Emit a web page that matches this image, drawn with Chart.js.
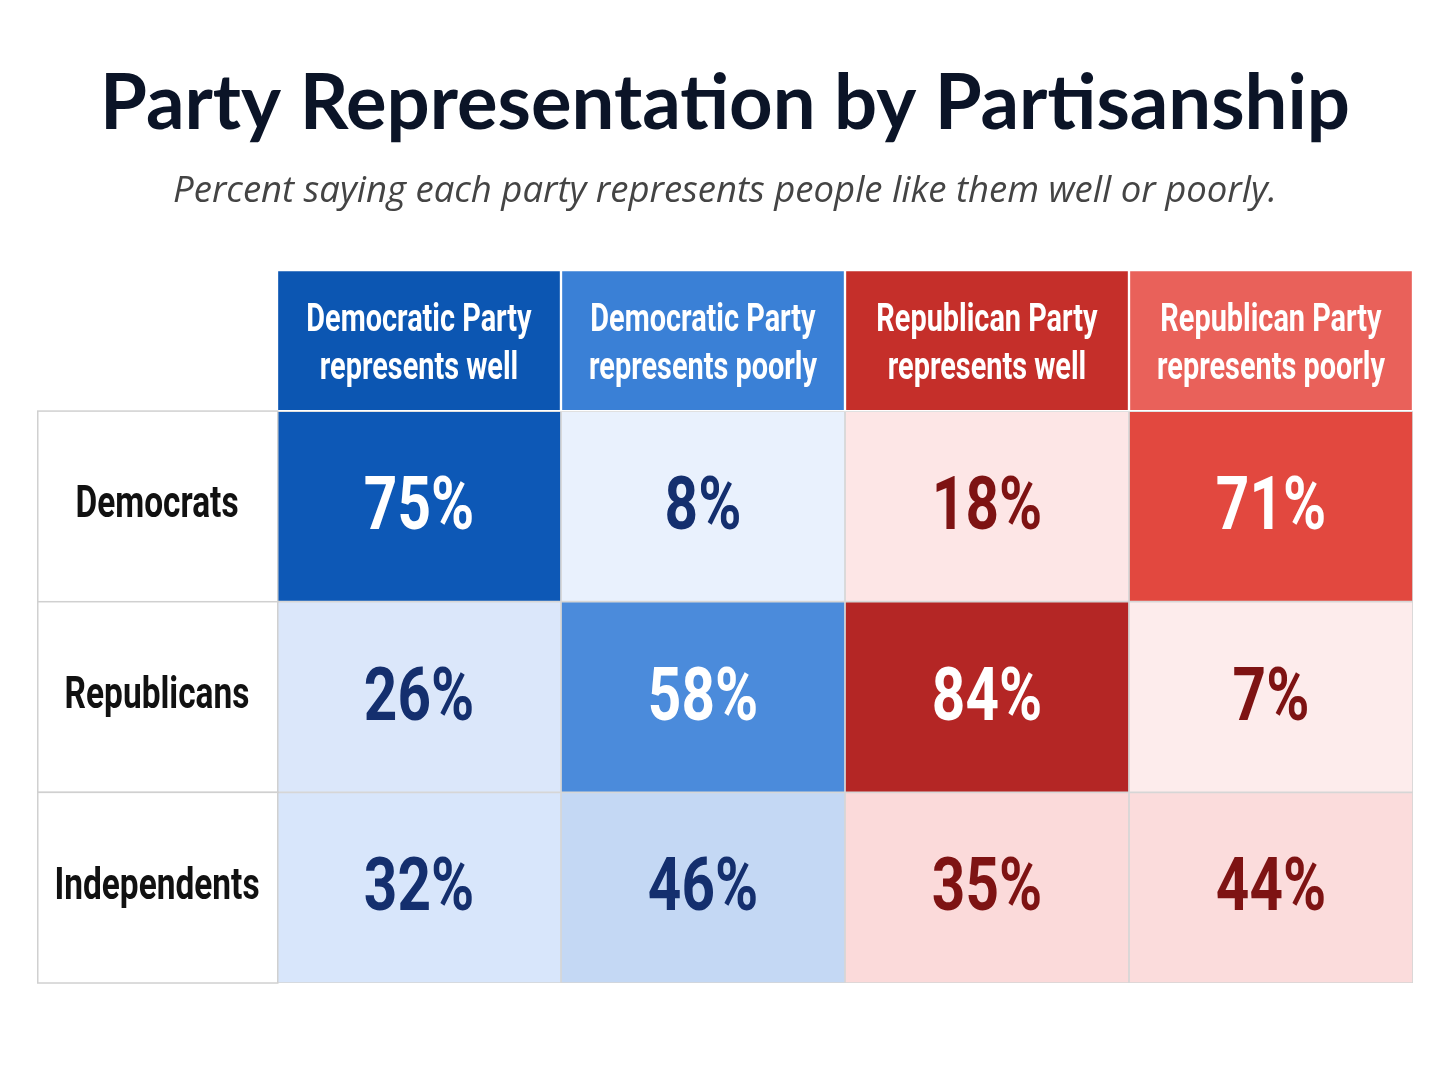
<!DOCTYPE html>
<html>
<head>
<meta charset="utf-8">
<script src="https://cdn.jsdelivr.net/npm/chart.js@4"></script>
<style>
  html, body { margin: 0; padding: 0; background: #fff; }
  #wrap { width: 1448px; height: 1086px; }
</style>
</head>
<body>
<div id="wrap"><canvas id="heat"></canvas></div>
<script>
// column headers and row groups
var columns = ['Democratic Party\nrepresents well', 'Democratic Party\nrepresents poorly',
               'Republican Party\nrepresents well', 'Republican Party\nrepresents poorly'];
var groups = ['Democrats', 'Republicans', 'Independents'];

// percent values, one array per group
var democrats    = [75, 8, 18, 71];
var republicans  = [26, 58, 84, 7];
var independents = [32, 46, 35, 44];

var values = [democrats, republicans, independents];

// styling
var headerColors = ['#0c56b2', '#3a80d6', '#c52f2a', '#e9615a'];
var cellColors = [
    ['#0d58b6', '#e9f1fd', '#fde6e6', '#e2483f'],
    ['#dbe7fa', '#4b8bdb', '#b42625', '#fdecec'],
    ['#d8e6fb', '#c4d8f4', '#fbdada', '#fbdcdc']
];
var textColors = [
    ['#ffffff', '#142f6e', '#7e1313', '#ffffff'],
    ['#142f6e', '#ffffff', '#ffffff', '#7e1313'],
    ['#142f6e', '#142f6e', '#7e1313', '#7e1313']
];
var face = 'Roboto, "DejaVu Sans Condensed", sans-serif';

// header row spans a shorter band above the three group rows
var headerTop = -0.74;

var datasets = [];
datasets.push({
    label: 'header',
    data: columns.map(function() { return [headerTop, 0]; }),
    backgroundColor: headerColors,
    borderColor: '#ffffff',
    borderWidth: 1.5,
    borderSkipped: false
});
groups.forEach(function(g, r) {
    datasets.push({
        label: g,
        data: columns.map(function() { return [r, r + 1]; }),
        backgroundColor: cellColors[r],
        borderColor: '#d6d6d6',
        borderWidth: 1.2,
        borderSkipped: false
    });
});

// draw narrow text (no condensed face installed, so squeeze horizontally)
function squeezed(ctx, text, x, y, font, sx) {
    ctx.save();
    ctx.translate(x, y);
    ctx.scale(sx, 1);
    ctx.font = font;
    ctx.fillText(text, 0, 0);
    ctx.restore();
}

var cellText = {
    id: 'cellText',
    afterDatasetsDraw: function(chart) {
        var ctx = chart.ctx;
        var ys = chart.scales.y;
        ctx.save();
        ctx.textAlign = 'center';
        ctx.textBaseline = 'middle';

        // row label column lives in the y axis box
        groups.forEach(function(g, r) {
            var top = ys.getPixelForValue(r), bot = ys.getPixelForValue(r + 1);
            ctx.fillStyle = '#ffffff';
            ctx.fillRect(ys.left, top, ys.right - ys.left, bot - top);
            ctx.strokeStyle = '#d0d0d0';
            ctx.lineWidth = 1.5;
            ctx.strokeRect(ys.left + 0.75, top, ys.right - ys.left, bot - top);
            ctx.fillStyle = '#111111';
            squeezed(ctx, g, (ys.left + ys.right) / 2, (top + bot) / 2, 'bold 44px ' + face, 0.76);
        });

        chart.data.datasets.forEach(function(ds, d) {
            var meta = chart.getDatasetMeta(d);
            meta.data.forEach(function(el, c) {
                var cx = el.x, cy = (el.y + el.base) / 2;
                if (d === 0) {
                    ctx.fillStyle = '#ffffff';
                    var lines = columns[c].split('\n');
                    squeezed(ctx, lines[0], cx, cy - 19, 'bold 39px ' + face, 0.74);
                    squeezed(ctx, lines[1], cx, cy + 29, 'bold 39px ' + face, 0.74);
                } else {
                    ctx.fillStyle = textColors[d - 1][c];
                    squeezed(ctx, values[d - 1][c] + '%', cx, cy + 4, 'bold 74px ' + face, 0.79);
                }
            });
        });
        ctx.restore();
    }
};

new Chart(document.getElementById('heat'), {
    type: 'bar',
    data: { labels: columns, datasets: datasets },
    options: {
        responsive: true,
        maintainAspectRatio: false,
        animation: false,
        layout: { padding: { left: 37, right: 35, bottom: 103 } },
        datasets: { bar: { grouped: false, barPercentage: 1, categoryPercentage: 1 } },
        scales: {
            x: { display: false },
            y: {
                reverse: true, min: headerTop, max: 3,
                ticks: { display: false },
                grid: { display: false },
                border: { display: false },
                afterFit: function(scale) { scale.width = 240; }
            }
        },
        plugins: {
            legend: { display: false },
            tooltip: { enabled: false },
            title: {
                display: true,
                text: 'Party Representation by Partisanship',
                color: '#0b1427',
                font: { family: 'Lato, "Open Sans", sans-serif', size: 76, weight: 'bold' },
                padding: { top: 59, bottom: 20 }
            },
            subtitle: {
                display: true,
                text: 'Percent saying each party represents people like them well or poorly.',
                color: '#444444',
                font: { family: '"Open Sans", sans-serif', size: 36.5, style: 'italic' },
                padding: { bottom: 56 }
            }
        }
    },
    plugins: [cellText]
});
</script>
</body>
</html>
